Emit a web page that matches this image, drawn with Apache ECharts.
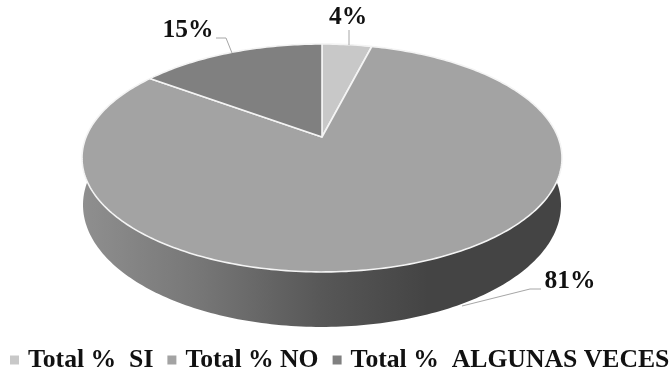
<!DOCTYPE html>
<html>
<head>
<meta charset="utf-8">
<style>html,body{margin:0;padding:0;background:#fff}#chart{width:671px;height:373px}</style>
<script src="https://cdn.jsdelivr.net/npm/echarts@6/dist/echarts.min.js"></script>
</head>
<body>
<div id="chart"></div>
<script>
// Survey shares shown as a tilted pie
const categories = ['Total %  SI', 'Total % NO', 'Total %  ALGUNAS VECES'];
const shares = [4, 81, 15];
const colors = ['#c8c8c8', '#a3a3a3', '#808080'];

// Tilted disc: the centre sits above the middle of the rim ellipse
const tilt = { cx: 322, cy: 137, a: 235.9, b: 110.1, k: 0.184 };
const topRim = { cy: 158, rx: 240, ry: 114 };
const baseRim = { cy: 205, rx: 239, ry: 122 };
const labelFont = 'bold 25.5px "Liberation Serif", serif';

// Where each percentage label and its leader line go
const callouts = [
  { at: [348, 17], leader: [[349, 30], [349, 45]] },
  { at: [570, 281], leader: [[541, 289], [530, 289], [462, 306]] },
  { at: [188, 30], leader: [[216, 38], [226, 38], [232, 53]] }
];

const total = shares.reduce((s, v) => s + v, 0);

function project(turn) {
  const t = turn * 2 * Math.PI;
  const u = Math.sin(t), v = Math.cos(t), d = 1 + tilt.k * v;
  return [tilt.cx + tilt.a * u / d, tilt.cy - tilt.b * v / d];
}
function toBase(p) {
  return [
    tilt.cx + (p[0] - tilt.cx) * baseRim.rx / topRim.rx,
    baseRim.cy + (p[1] - topRim.cy) * baseRim.ry / topRim.ry
  ];
}
function sliceRange(i) {
  const start = shares.slice(0, i).reduce((s, v) => s + v, 0) / total;
  return [start, start + shares[i] / total];
}
function arc(i) {
  const [s, e] = sliceRange(i);
  const n = Math.max(8, Math.round((e - s) * 360));
  const pts = [];
  for (let j = 0; j <= n; j++) pts.push(project(s + (e - s) * j / n));
  return pts;
}

const faceSeries = categories.map((name, i) => ({
  type: 'custom',
  name,
  coordinateSystem: 'none',
  z: 3,
  silent: true,
  itemStyle: { color: colors[i] },
  data: [shares[i]],
  renderItem: () => ({
    type: 'group',
    children: [
      {
        type: 'polygon',
        shape: { points: [[tilt.cx, tilt.cy]].concat(arc(i)) },
        style: { fill: colors[i], stroke: '#f4f4f4', lineWidth: 1.6, lineJoin: 'round' }
      },
      {
        type: 'polyline',
        shape: { points: callouts[i].leader },
        style: { fill: null, stroke: '#a6a6a6', lineWidth: 1 }
      },
      {
        type: 'text',
        style: {
          text: shares[i] + '%',
          x: callouts[i].at[0], y: callouts[i].at[1],
          align: 'center', verticalAlign: 'middle',
          font: labelFont, fill: '#111'
        }
      }
    ]
  })
}));

// Rim of the disc, one band per slice, hidden at the back by the faces
const wallSeries = {
  type: 'custom',
  coordinateSystem: 'none',
  z: 1,
  silent: true,
  data: shares,
  renderItem: (params) => {
    const pts = arc(params.dataIndex);
    return {
      type: 'polygon',
      shape: { points: pts.concat(pts.map(toBase).reverse()) },
      style: {
        fill: new echarts.graphic.LinearGradient(82, 0, 562, 0, [
          { offset: 0, color: '#8f8f8f' },
          { offset: 0.25, color: '#767676' },
          { offset: 0.5, color: '#575757' },
          { offset: 0.72, color: '#444444' },
          { offset: 1, color: '#444444' }
        ], true)
      }
    };
  }
};

const chart = echarts.init(document.getElementById('chart'), null, { renderer: 'canvas' });
chart.setOption({
  animation: false,
  backgroundColor: '#fff',
  legend: {
    data: categories,
    left: 5,
    top: 342,
    width: 760,
    icon: 'rect',
    itemWidth: 9,
    itemHeight: 9,
    itemGap: 14,
    selectedMode: false,
    textStyle: {
      fontFamily: '"Liberation Serif", serif',
      fontWeight: 'bold',
      fontSize: 25.7,
      color: '#111',
      padding: [0, 0, 0, 4]
    }
  },
  series: [wallSeries].concat(faceSeries)
});
</script>
</body>
</html>
